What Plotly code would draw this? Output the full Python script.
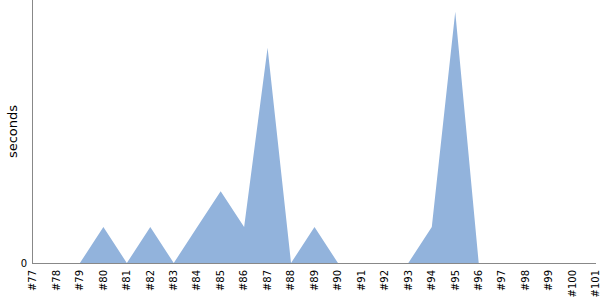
import plotly.graph_objects as go

categories = ["#%d" % n for n in range(77, 102)]
seconds = [0, 0, 0, 1, 0, 1, 0, 1, 2, 1, 6, 0, 1, 0, 0, 0, 0, 1, 7, 0, 0, 0, 0, 0, 0]

fig = go.Figure()
fig.add_trace(go.Scatter(
    x=categories, y=seconds, mode="lines", fill="tozeroy",
    line=dict(width=0, color="#92b3dc"), fillcolor="#92b3dc",
    hoverinfo="skip",
))
fig.update_layout(
    width=600, height=300,
    margin=dict(l=33, r=4, t=0, b=37),
    paper_bgcolor="white", plot_bgcolor="white",
    showlegend=False,
    font=dict(family="DejaVu Sans", color="black"),
)
fig.update_xaxes(
    type="category", range=[0, len(categories) - 1],
    showgrid=False, zeroline=False, showline=True, linecolor="#888888", linewidth=1,
    tickangle=-90, tickfont=dict(size=10), ticks="", ticklabelstandoff=2,
)
fig.update_yaxes(
    range=[0, 7.33], tickvals=[0], ticktext=["0"],
    showgrid=False, zeroline=False, showline=True, linecolor="#888888", linewidth=1,
    tickfont=dict(size=10), ticks="", ticklabelstandoff=3,
    title=dict(text="seconds", font=dict(size=13), standoff=0),
)
fig.write_html("out.html")
